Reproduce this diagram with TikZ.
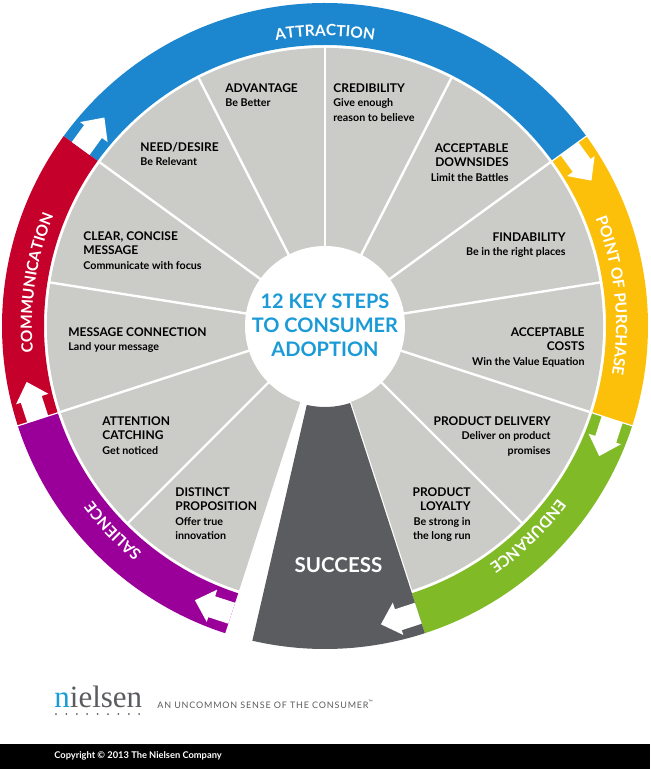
\documentclass[tikz,border=0pt]{standalone}
\usepackage{fontspec}
\setmainfont{Lato}
\newfontfamily\logofont{Liberation Serif}
\newfontfamily\tagfont[LetterSpace=9]{Lato}
\usetikzlibrary{decorations.text}
\definecolor{ringblue}{HTML}{1C87CF}
\definecolor{ringred}{HTML}{C4002B}
\definecolor{ringyellow}{HTML}{FDC00A}
\definecolor{ringgreen}{HTML}{80BA27}
\definecolor{ringpurple}{HTML}{9A0099}
\definecolor{successgray}{HTML}{5B5C60}
\definecolor{sectorgray}{HTML}{CBCCC8}
\definecolor{titleblue}{HTML}{1A9AD6}
\newcommand{\ringfont}{\fontsize{15.5}{17}\selectfont\bfseries\color{white}}
\begin{document}
\begin{tikzpicture}[x=1pt,y=1pt,line width=0.8pt]
    \tikzstyle{spoke} = [draw=white, line width=2.4pt]
    \tikzstyle{arrowcut} = [fill=white]
    \tikzstyle{ringtext} = [decorate, decoration={text along path, text align=center}]
    \tikzstyle{steptext} = [inner sep=0pt, text=black, font=\fontsize{10.7}{14.5}\selectfont\bfseries]
    \tikzstyle{stepleft} = [steptext, anchor=north west, align=left]
    \tikzstyle{stepright} = [steptext, anchor=north east, align=right]
    \newcommand{\stephead}{\fontsize{12}{14.5}\selectfont}

    % Page and wheel centre
    \useasboundingbox (-325,-444) rectangle (325,326);
    \coordinate (hub) at (0,0);

    % Sectors
    \fill[sectorgray] (hub) -- (-72:278) arc[start angle=-72, end angle=252, radius=278] -- cycle;

    % Spokes
    \draw[spoke] (hub) -- (90:279);
    \draw[spoke] (hub) -- (63:279);
    \draw[spoke] (hub) -- (36:279);
    \draw[spoke] (hub) -- (9:279);
    \draw[spoke] (hub) -- (-18:279);
    \draw[spoke] (hub) -- (-45:279);
    \draw[spoke] (hub) -- (-72:279);
    \draw[spoke] (hub) -- (117:279);
    \draw[spoke] (hub) -- (144:279);
    \draw[spoke] (hub) -- (171:279);
    \draw[spoke] (hub) -- (198:279);
    \draw[spoke] (hub) -- (225:279);

    % Outer ring
    \fill[ringblue] (36:323) arc[start angle=36, end angle=144, radius=323] -- (144:281) arc[start angle=144, end angle=36, radius=281] -- cycle;
    \fill[ringred] (144:323) arc[start angle=144, end angle=198, radius=323] -- (198:281) arc[start angle=198, end angle=144, radius=281] -- cycle;
    \fill[ringpurple] (198:323) arc[start angle=198, end angle=252, radius=323] -- (252:281) arc[start angle=252, end angle=198, radius=281] -- cycle;
    \fill[ringyellow] (-18:323) arc[start angle=-18, end angle=36, radius=323] -- (36:281) arc[start angle=36, end angle=-18, radius=281] -- cycle;
    \fill[ringgreen] (-72:323) arc[start angle=-72, end angle=-18, radius=323] -- (-18:281) arc[start angle=-18, end angle=-72, radius=281] -- cycle;

    % Success sector
    \fill[successgray] (257:81) -- (257:323) arc[start angle=257, end angle=288, radius=323] -- (288:81) arc[start angle=288, end angle=257, radius=81] -- cycle;

    % Thin gaps where the ring changes colour
    \draw[white, line width=1.2pt] (36:279) -- (36:325);
    \draw[white, line width=1.2pt] (-18:279) -- (-18:325);
    \draw[white, line width=1.2pt] (198:279) -- (198:325);

    % White arrows cut into the ring
    \fill[arrowcut, rotate=144] (291,0) -- (291,-21) -- (284,-21) -- (301,-39) -- (318,-21) -- (313,-21) -- (313,0) -- cycle;
    \fill[arrowcut, rotate=36] (291,0) -- (291,-21) -- (284,-21) -- (301,-39) -- (318,-21) -- (313,-21) -- (313,0) -- cycle;
    \fill[arrowcut, rotate=-18] (291,0) -- (291,-21) -- (284,-21) -- (301,-39) -- (318,-21) -- (313,-21) -- (313,0) -- cycle;
    \fill[arrowcut, rotate=-72] (291,0) -- (291,-21) -- (284,-21) -- (301,-39) -- (318,-21) -- (313,-21) -- (313,0) -- cycle;
    \fill[arrowcut, rotate=252] (291,0) -- (291,-21) -- (284,-21) -- (301,-39) -- (318,-21) -- (313,-21) -- (313,0) -- cycle;
    \fill[arrowcut, rotate=198] (291,0) -- (291,-21) -- (284,-21) -- (301,-39) -- (318,-21) -- (313,-21) -- (313,0) -- cycle;

    % Ring labels
    \path[ringtext, decoration={text={|\ringfont|ATTRACTION}}] (125:290) arc[start angle=125, end angle=55, radius=290];
    \path[ringtext, decoration={text={|\ringfont|POINT OF PURCHASE}}] (38:291) arc[start angle=38, end angle=-26, radius=291];
    \path[ringtext, decoration={text={|\ringfont|ENDURANCE}}] (-22:290) arc[start angle=-22, end angle=-70, radius=290];
    \path[ringtext, decoration={text={|\ringfont|SALIENCE}}] (246:291) arc[start angle=246, end angle=202, radius=291];
    \path[ringtext, decoration={text={|\ringfont|COMMUNICATION}}] (198:293) arc[start angle=198, end angle=145, radius=293];

    % Hub
    \fill[white] (hub) circle (80);
    \node[inner sep=0pt, align=center, text=titleblue, font=\fontsize{20}{24}\selectfont\bfseries] (title) at (0,1) {12 KEY STEPS\\TO CONSUMER\\ADOPTION};
    \node[inner sep=0pt, text=white, font=\fontsize{20.5}{22}\selectfont\bfseries] (success) at (13.5,-239) {SUCCESS};

    % Left hand steps
    \node[stepleft] (advantage) at (-100,243) {{\stephead ADVANTAGE}\\Be Better};
    \node[stepleft] (need) at (-185,184) {{\stephead NEED/DESIRE}\\Be Relevant};
    \node[stepleft] (clear) at (-242,95) {{\stephead CLEAR, CONCISE}\\{\stephead MESSAGE}\\Communicate with focus};
    \node[stepleft] (connection) at (-257,-1) {{\stephead MESSAGE CONNECTION}\\Land your message};
    \node[stepleft] (attention) at (-223,-90) {{\stephead ATTENTION}\\{\stephead CATCHING}\\Get noticed};
    \node[stepleft] (distinct) at (-150,-161) {{\stephead DISTINCT}\\{\stephead PROPOSITION}\\Offer true\\innovation};

    % Right hand steps
    \node[stepleft] (credibility) at (8,243) {{\stephead CREDIBILITY}\\Give enough\\reason to believe};
    \node[stepright] (downsides) at (184,183) {{\stephead ACCEPTABLE}\\{\stephead DOWNSIDES}\\Limit the Battles};
    \node[stepright] (findability) at (241,94) {{\stephead FINDABILITY}\\Be in the right places};
    \node[stepright] (costs) at (260,-1) {{\stephead ACCEPTABLE}\\{\stephead COSTS}\\Win the Value Equation};
    \node[stepright] (delivery) at (226,-90) {{\stephead PRODUCT DELIVERY}\\Deliver on product\\promises};
    \node[stepright] (loyalty) at (146,-161) {{\stephead PRODUCT}\\{\stephead LOYALTY}\\Be strong in\\the long run};

    % Logo line
    \node[anchor=base west, inner sep=0pt, font=\logofont\fontsize{31}{31}\selectfont, text=successgray] (logo) at (-271,-381) {\textcolor{titleblue}{n}ielsen};
    \fill[successgray] (-269,-388) circle (1) (-258.6,-388) circle (1) (-248.2,-388) circle (1) (-237.8,-388) circle (1) (-227.4,-388) circle (1) (-217,-388) circle (1) (-206.6,-388) circle (1) (-196.2,-388) circle (1) (-185.8,-388) circle (1);
    \node[anchor=base west, inner sep=0pt, font=\tagfont\fontsize{9}{10}\selectfont, text=successgray] (tagline) at (-168,-382) {AN UNCOMMON SENSE OF THE CONSUMER\textsuperscript{™}};

    % Footer bar
    \fill[black] (-325,-418) rectangle (325,-442.5);
    \node[anchor=base west, inner sep=0pt, text=white, font=\fontsize{9.3}{10}\selectfont\bfseries] (copyright) at (-271,-432) {Copyright © 2013 The Nielsen Company};
\end{tikzpicture}
\end{document}
